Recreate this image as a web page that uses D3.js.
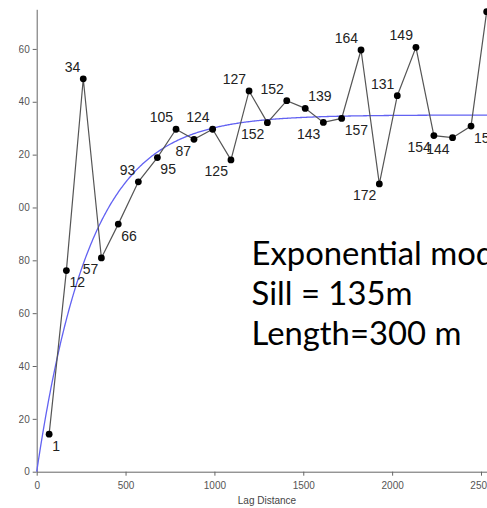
<!DOCTYPE html>
<html>
<head>
<meta charset="utf-8">
<script src="https://cdn.jsdelivr.net/npm/d3@7"></script>
<style>
  html, body { margin: 0; padding: 0; background: #fff; overflow: hidden; }
  svg { display: block; }
  .axis text { font-family: "Liberation Sans", Arial, sans-serif; font-size: 10px; fill: #555; }
  .axis path, .axis line { stroke: #666; }
</style>
</head>
<body>
<script>
// experimental variogram (lag distance, semivariance, pairs label)
var lagDist = [70, 167, 262, 364, 459, 572, 679, 784, 885, 990, 1093, 1195, 1298, 1407, 1511,
               1613, 1716, 1825, 1928, 2029, 2134, 2235, 2340, 2444, 2532];
var gammaVals = [14.2, 76.1, 148.7, 80.9, 93.7, 109.7, 118.9, 129.6, 125.8, 129.6, 118.0, 144.1, 132.1, 140.4, 137.5,
                 132.2, 133.7, 159.6, 108.9, 142.3, 160.6, 127.2, 126.4, 130.8, 174.1];
var pairLabels = ["1", "12", "34", "57", "66", "93", "95", "105", "87", "124", "125", "127", "152", "152", "139",
                  "143", "157", "164", "172", "131", "149", "154", "144", "158", "150"];
// where each label sits round its point: tl / tr / bl / br
var labelSide = ["br", "br", "tl", "bl", "br", "tl", "br", "tl", "bl", "tl", "bl", "tl", "bl", "tl", "tr",
                 "bl", "br", "tl", "bl", "tl", "tl", "bl", "bl", "br", "tr"];

var xTicks = [0, 500, 1000, 1500, 2000, 2500];
var yTicks = [0, 20, 40, 60, 80, 100, 120, 140, 160];

// exponential model
var sill = 135;
var rangeLen = 300;
var noteLines = ["Exponential model", "Sill = 135m", "Length=300 m"];

var width = 487, height = 508;

var svg = d3.select("body").append("svg")
    .attr("width", width)
    .attr("height", height);

var x = d3.scaleLinear()
    .domain([0, 2540])
    .range([36.7, 488.1]);
var y = d3.scaleLinear()
    .domain([0, 175])
    .range([471.7, 9.3]);

// the picture is a crop: left part of the y labels is outside it
svg.append("defs").append("clipPath").attr("id", "yclip")
    .append("rect").attr("x", 18.5).attr("y", 0).attr("width", 60).attr("height", height);

svg.append("g")
    .attr("class", "axis")
    .attr("transform", "translate(0," + y(0) + ")")
    .call(d3.axisBottom(x).tickValues(xTicks).tickFormat(d3.format("d"))
        .tickSize(4).tickSizeOuter(0).tickPadding(6));

svg.append("g")
    .attr("clip-path", "url(#yclip)")
    .append("g")
    .attr("class", "axis")
    .attr("transform", "translate(" + x(0) + ",0)")
    .call(d3.axisLeft(y).tickValues(yTicks).tickFormat(d3.format("d"))
        .tickSize(4).tickSizeOuter(0).tickPadding(3));

svg.append("text")
    .attr("x", 267)
    .attr("y", 504)
    .attr("text-anchor", "middle")
    .style("font-family", '"Liberation Sans", Arial, sans-serif')
    .style("font-size", "10px")
    .style("fill", "#444")
    .text("Lag Distance");

// model curve
var hs = d3.range(0, 2541, 5);
var model = d3.line()
    .x(function(h) { return x(h); })
    .y(function(h) { return y(sill * (1 - Math.exp(-h / rangeLen))); });
svg.append("path")
    .datum(hs)
    .attr("d", model)
    .attr("fill", "none")
    .attr("stroke", "#6262f2")
    .attr("stroke-width", 1.3);

// experimental points
var pts = lagDist.map(function(d, i) {
    return {h: d, g: gammaVals[i], lab: pairLabels[i], side: labelSide[i]};
});

var line = d3.line()
    .x(function(d) { return x(d.h); })
    .y(function(d) { return y(d.g); });

svg.append("path")
    .datum(pts)
    .attr("d", line)
    .attr("fill", "none")
    .attr("stroke", "#555")
    .attr("stroke-width", 1.2);

svg.append("g")
    .selectAll("circle")
    .data(pts)
    .enter().append("circle")
    .attr("cx", function(d) { return x(d.h); })
    .attr("cy", function(d) { return y(d.g); })
    .attr("r", 3.4)
    .attr("fill", "#000");

svg.append("g")
    .selectAll("text")
    .data(pts)
    .enter().append("text")
    .attr("x", function(d) { return x(d.h) + (d.side[1] == "l" ? -3 : 3); })
    .attr("y", function(d) { return y(d.g) + (d.side[0] == "t" ? -7 : 16.5); })
    .attr("text-anchor", function(d) { return d.side[1] == "l" ? "end" : "start"; })
    .style("font-family", '"Liberation Sans", Arial, sans-serif')
    .style("font-size", "14px")
    .style("fill", "#222")
    .text(function(d) { return d.lab; });

// note text, sized so the last line spans the same width as in the picture
var noteFont = 'Lato, "Open Sans", sans-serif';
var note = svg.append("g");
var probe = note.append("text")
    .style("font-family", noteFont)
    .style("font-size", "100px")
    .text(noteLines[2]);
var fs = 100 * 210 / probe.node().getComputedTextLength();
probe.remove();

note.selectAll("text")
    .data(noteLines)
    .enter().append("text")
    .attr("x", 251.5)
    .attr("y", function(d, i) { return 265 + i * 40; })
    .style("font-family", noteFont)
    .style("font-size", fs + "px")
    .style("fill", "#000")
    .text(function(d) { return d; });
</script>
</body>
</html>
